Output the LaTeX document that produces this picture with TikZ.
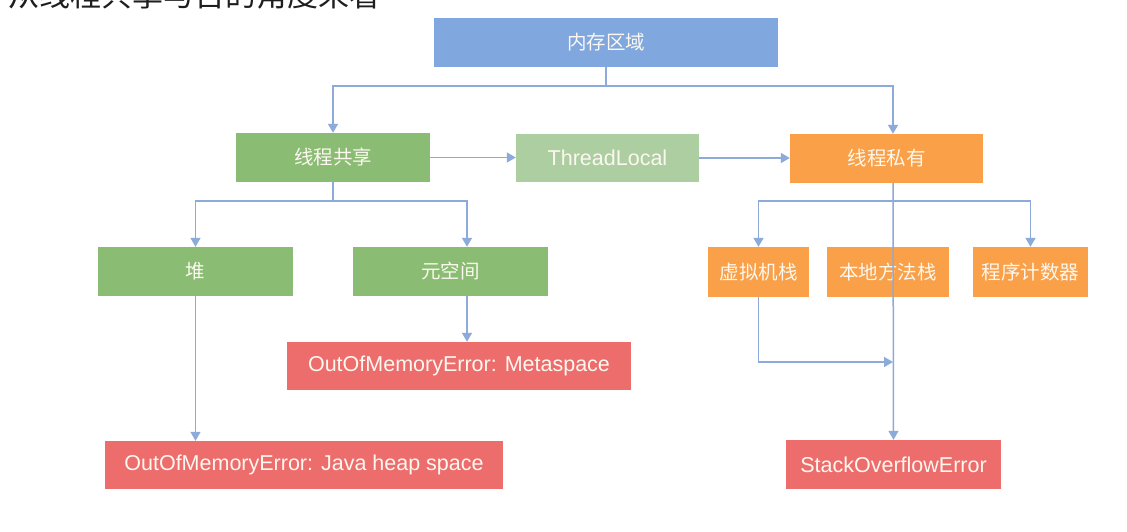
\documentclass[tikz,border=0pt]{standalone}
\usepackage{fontspec}
\setmainfont{Liberation Sans}
\newfontfamily\cjk{Noto Sans CJK SC}
\usetikzlibrary{arrows.meta,calc}
\definecolor{cBlue}{RGB}{128,167,222}
\definecolor{cGreen}{RGB}{138,188,115}
\definecolor{cLGreen}{RGB}{172,206,160}
\definecolor{cOrange}{RGB}{250,160,72}
\definecolor{cRed}{RGB}{237,108,108}
\definecolor{cText}{RGB}{252,248,240}
\definecolor{cLine}{RGB}{140,170,218}
\definecolor{cTitle}{RGB}{30,30,30}
\tikzset{
  box/.style={rectangle, inner sep=0pt, text=cText, anchor=center},
  zh/.style={font=\cjk\fontsize{19.5}{22}\selectfont},
  en/.style={font=\fontsize{21.5}{24}\selectfont},
  conn/.style={draw=cLine, line width=1.5pt},
  arr/.style={conn, -{Triangle[length=9pt,width=10pt]}},
}
\begin{document}
\begin{tikzpicture}[x=1pt,y=-1pt]
\useasboundingbox (0,0) rectangle (1127,531);
\clip (0,0) rectangle (1127,531);
\fill[white] (0,0) rectangle (1127,531);
% partially visible heading (cut at the top edge, as in the reference)
\node[anchor=base west, inner sep=0pt, text=cTitle, font=\cjk\fontsize{31}{32}\selectfont] (title) at (8,6) {从线程共享与否的角度来看};
% boxes
\node[box, zh, fill=cBlue,   minimum width=344pt, minimum height=49pt] (mem)    at (606,42.5) {内存区域};
\node[box, zh, fill=cGreen,  minimum width=194pt, minimum height=49pt] (share)  at (333,157.5) {线程共享};
\node[box, en, fill=cLGreen, minimum width=183pt, minimum height=48pt] (tl)     at (607.5,158) {ThreadLocal};
\node[box, zh, fill=cOrange, minimum width=193pt, minimum height=49pt] (priv)   at (886.5,158.5) {线程私有};
\node[box, zh, fill=cGreen,  minimum width=195pt, minimum height=49pt] (heap)   at (195.5,271.5) {堆};
\node[box, zh, fill=cGreen,  minimum width=195pt, minimum height=49pt] (meta)   at (450.5,271.5) {元空间};
\node[box, zh, fill=cOrange, minimum width=101pt, minimum height=50pt] (vm)     at (758.5,272) {虚拟机栈};
\node[box, zh, fill=cOrange, minimum width=122pt, minimum height=50pt] (native) at (888,272) {本地方法栈};
\node[box, zh, fill=cOrange, minimum width=115pt, minimum height=50pt] (pc)     at (1030.5,272) {程序计数器};
\node[box, en, fill=cRed,    minimum width=344pt, minimum height=48pt] (oomMeta) at (459,366) {OutOfMemoryError: Metaspace};
\node[box, en, fill=cRed,    minimum width=398pt, minimum height=48pt] (oomHeap) at (304,465) {OutOfMemoryError: Java heap space};
\node[box, en, fill=cRed,    minimum width=215pt, minimum height=49pt] (soe)    at (893.5,464.5) {StackOverflowError};
% junction coordinates
\coordinate (jTop) at (606,86);
\coordinate (jShare) at (333,201);
\coordinate (jPriv) at (893,201);
\coordinate (privAxis) at (893,0);
\coordinate (metaAxis) at (467,0);
\coordinate (mergeY) at (0,362);
% connectors
\draw[conn] (mem.south) -- (jTop);
\draw[arr] (jTop) -| (share.north);
\draw[arr] (jTop) -| (privAxis |- priv.north);
\draw[arr] (share.east) -- (share.east -| tl.west);
\draw[arr] (tl.east) -- (tl.east -| priv.west);
\draw[conn] (share.south) -- (jShare);
\draw[arr] (jShare) -| (heap.north);
\draw[arr] (jShare) -| (metaAxis |- meta.north);
\draw[arr] (metaAxis |- meta.south) -- (metaAxis |- oomMeta.north);
\draw[arr] (heap.south) -- (heap.south |- oomHeap.north);
\draw[arr] (privAxis |- priv.south) -- (soe.north);
\draw[arr] (jPriv) -| (vm.north);
\draw[arr] (jPriv) -| (pc.north);
\draw[arr] (vm.south) |- (privAxis |- mergeY);
\end{tikzpicture}
\end{document}
